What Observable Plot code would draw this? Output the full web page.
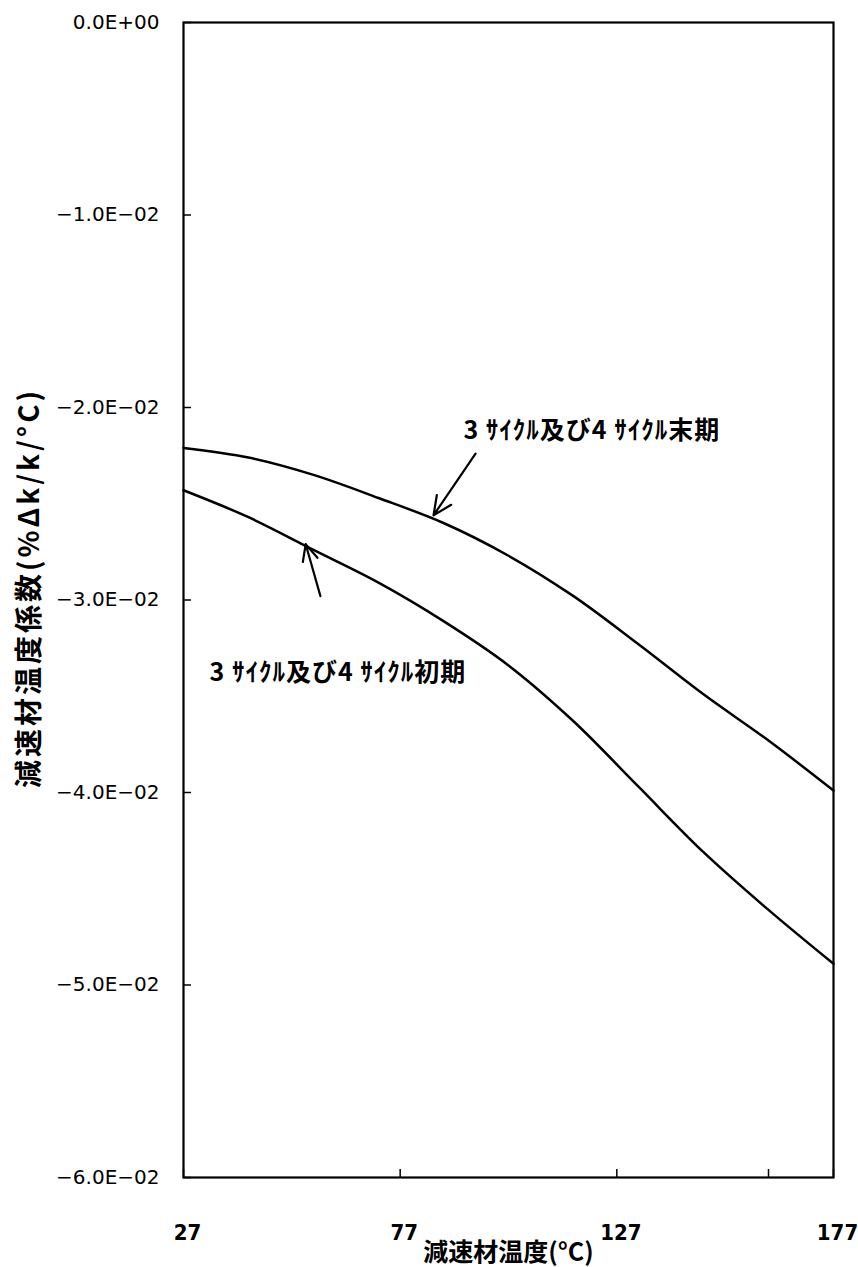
<!DOCTYPE html>
<html>
<head>
<meta charset="utf-8">
<script src="https://cdn.jsdelivr.net/npm/d3@7"></script>
<script src="https://cdn.jsdelivr.net/npm/@observablehq/plot@0.6"></script>
<style>
  html, body { margin: 0; padding: 0; background: #fff; }
</style>
</head>
<body>
<div id="chart"></div>
<script>
// ---- data ----
const temps = [27, 42, 57, 72, 87, 102, 117, 132, 147, 162, 177];
const endOfCycle = [-0.0221, -0.0226, -0.0235, -0.0247, -0.0260, -0.0277, -0.0298, -0.0323, -0.0349, -0.0373, -0.0399];
const beginOfCycle = [-0.0243, -0.0257, -0.0274, -0.0291, -0.0311, -0.0334, -0.0363, -0.0397, -0.0431, -0.0461, -0.0489];
const seriesNames = ["3 ｻｲｸﾙ及び4 ｻｲｸﾙ末期", "3 ｻｲｸﾙ及び4 ｻｲｸﾙ初期"];

const xTicks = [27, 77, 127, 177];
const xTickLabels = ["27", "77", "127", "177"];
const xMinorTicks = [162];
const yTicks = [0, -0.01, -0.02, -0.03, -0.04, -0.05, -0.06];
const yTickLabels = ["0.0E+00", "−1.0E−02", "−2.0E−02", "−3.0E−02", "−4.0E−02", "−5.0E−02", "−6.0E−02"];

const xTitle = "減速材温度(°C)";
const yTitle = "減速材温度係数(%Δk/k/°C)";

// annotation anchors (data units)
const labelPos = [{x: 91.6, y: -0.0212}, {x: 33.0, y: -0.0338}];
const arrowsData = [
  {x1: 94.4, y1: -0.0224, x2: 84.7, y2: -0.0256},
  {x1: 58.6, y1: -0.0298, x2: 55.2, y2: -0.0271}
];

// ---- build ----
const rows = [];
temps.forEach((t, i) => {
  rows.push({t, v: endOfCycle[i], s: seriesNames[0]});
  rows.push({t, v: beginOfCycle[i], s: seriesNames[1]});
});
const labels = seriesNames.map((name, i) => ({name, ...labelPos[i]}));

const W = 858, H = 1267;
const mL = 183, mR = 25, mT = 22, mB = 90;
const innerW = W - mL - mR, innerH = H - mT - mB;

const cjk = "'Noto Sans CJK JP', 'Noto Sans', sans-serif";

const chart = Plot.plot({
  width: W,
  height: H,
  marginLeft: mL,
  marginRight: mR,
  marginTop: mT,
  marginBottom: mB,
  style: {background: "#fff", color: "#000", overflow: "visible"},
  x: {domain: [27, 177]},
  y: {domain: [-0.06, 0]},
  marks: [
    Plot.frame({stroke: "#000", strokeWidth: 2.2}),
    // inward ticks
    Plot.tickY(yTicks, {y: d => d, stroke: "#000", strokeWidth: 1.5, insetRight: innerW - 8}),
    Plot.tickX(xTicks.concat(xMinorTicks), {x: d => d, stroke: "#000", strokeWidth: 1.5, insetTop: innerH - 8}),
    Plot.axisY(yTicks, {
      tickSize: 0, tickPadding: 24,
      tickFormat: d => yTickLabels[yTicks.indexOf(d)],
      fontSize: 20, fontFamily: "'DejaVu Sans', sans-serif",
      label: null
    }),
    Plot.axisX(xTicks, {
      tickSize: 0, tickPadding: 47, dx: 4,
      tickFormat: d => xTickLabels[xTicks.indexOf(d)],
      fontSize: 22, fontWeight: "bold",
      fontFamily: "'DejaVu Sans Condensed', 'Liberation Sans Narrow', 'DejaVu Sans', sans-serif",
      label: null
    }),
    Plot.line(rows, {x: "t", y: "v", z: "s", stroke: "#000", strokeWidth: 2.5, curve: "catmull-rom"}),
    Plot.arrow(arrowsData, {x1: "x1", y1: "y1", x2: "x2", y2: "y2", stroke: "#000", strokeWidth: 2.2, headLength: 14, headAngle: 50}),
    Plot.text(labels, {x: "x", y: "y", text: "name", textAnchor: "start", fontSize: 25, fontWeight: "bold", fontFamily: cjk, fill: "#000"}),
    Plot.text([xTitle], {text: d => d, frameAnchor: "bottom", lineAnchor: "bottom", dy: 83, fontSize: 25, fontWeight: "bold", fontFamily: cjk, fill: "#000"}),
    Plot.text([yTitle], {text: d => d, frameAnchor: "left", textAnchor: "middle", dx: -153, dy: -12, rotate: -90, fontSize: 28, fontWeight: "bold", fontFamily: cjk, fill: "#000"})
  ]
});
// letter-spacing for the rotated y title and curve labels
chart.querySelectorAll("text").forEach(t => {
  if (t.textContent === yTitle) t.setAttribute("letter-spacing", "3");
  if (seriesNames.includes(t.textContent)) t.setAttribute("letter-spacing", "1");
});
document.getElementById("chart").appendChild(chart);
</script>
</body>
</html>
